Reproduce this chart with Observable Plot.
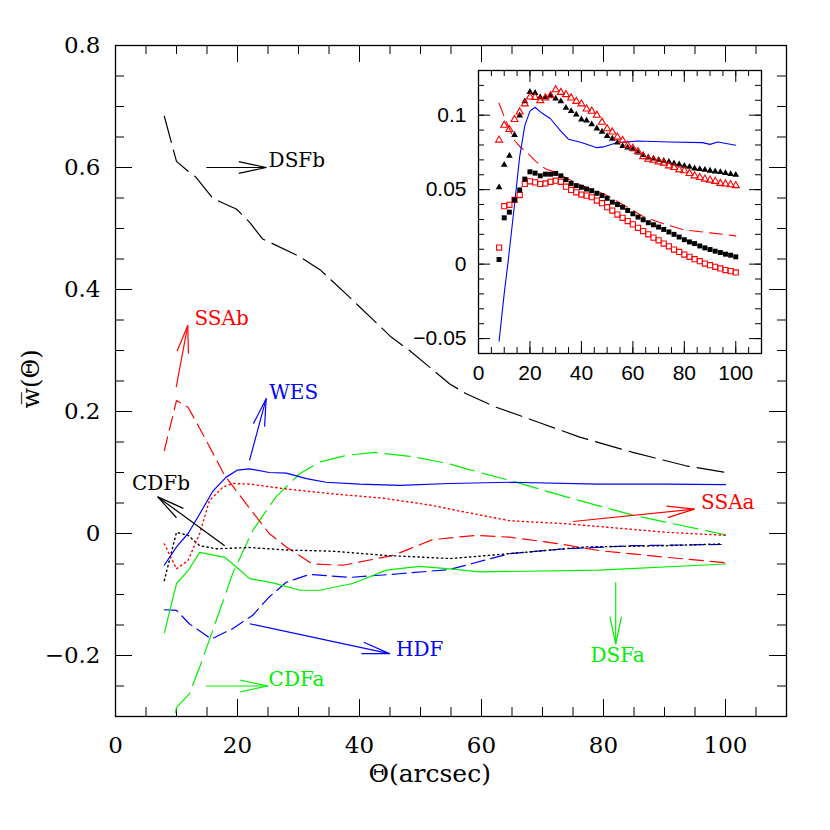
<!DOCTYPE html>
<html>
<head>
<meta charset="utf-8">
<script src="https://cdn.jsdelivr.net/npm/d3@7"></script>
<script src="https://cdn.jsdelivr.net/npm/@observablehq/plot@0.6"></script>
<style>
  html, body { margin: 0; padding: 0; background: #fff; }
  #chart { position: relative; width: 830px; height: 830px; }
</style>
</head>
<body>
<div id="chart"></div>
<script>
// ---------------- main panel data ----------------
const dsfbX = [8, 10, 12, 13.2, 16, 19.8, 22, 24.1, 30.2, 33.7, 38.4, 45.2, 48.2, 54.8, 57.5, 62.4, 70, 76.1, 84.8, 93.5, 100];
const dsfbY = [0.684, 0.61, 0.593, 0.584, 0.549, 0.532, 0.51, 0.483, 0.454, 0.431, 0.387, 0.322, 0.30, 0.245, 0.229, 0.207, 0.18, 0.158, 0.133, 0.111, 0.1];

const ssabX = [8, 10, 11.9, 14.9, 17.9, 21.4, 25.2, 28, 32.3, 37.3, 45.5, 52, 59.1, 64.6, 72.8, 79.3, 90.3, 100];
const ssabY = [0.136, 0.218, 0.207, 0.152, 0.095, 0.049, 0.0, -0.022, -0.05, -0.052, -0.036, -0.01, -0.003, -0.006, -0.017, -0.028, -0.039, -0.048];

const wesX = [8, 10, 11.9, 13.8, 16, 18.1, 20, 22, 25.2, 28, 31.3, 34.5, 40, 46.6, 54.8, 64.6, 79.3, 90.3, 100];
const wesY = [-0.052, -0.022, 0.0, 0.032, 0.07, 0.092, 0.104, 0.106, 0.1, 0.099, 0.09, 0.084, 0.081, 0.079, 0.082, 0.084, 0.081, 0.081, 0.080];

const cdfbX = [8, 10, 11.9, 13.8, 16.5, 22, 28, 35.6, 44.4, 54.8, 57.5, 65.7, 77.2, 90.3, 99.3];
const cdfbY = [-0.077, 0.002, -0.003, -0.02, -0.025, -0.023, -0.027, -0.029, -0.036, -0.041, -0.039, -0.032, -0.022, -0.02, -0.017];

const ssaaX = [8, 10, 11.9, 13.8, 15.4, 17.6, 19.2, 22, 28, 35.6, 43.8, 52, 54.8, 64.6, 73.9, 90.3, 100];
const ssaaY = [-0.017, -0.058, -0.044, 0.0, 0.054, 0.076, 0.082, 0.081, 0.073, 0.065, 0.058, 0.046, 0.04, 0.021, 0.016, 0.002, -0.003];

const hdfX = [8, 10, 12.1, 15.7, 19.2, 22.5, 25.2, 28, 31.8, 38.4, 46.6, 54.8, 64.6, 73.9, 84.8, 99.3];
const hdfY = [-0.125, -0.126, -0.148, -0.173, -0.156, -0.134, -0.104, -0.08, -0.067, -0.072, -0.066, -0.059, -0.033, -0.025, -0.02, -0.018];

const dsfaX = [8, 10, 11.9, 13.8, 17.9, 19.8, 22, 25.8, 30.2, 33.4, 38.9, 44.4, 49.8, 54.8, 59.7, 79.3, 100];
const dsfaY = [-0.163, -0.082, -0.061, -0.031, -0.039, -0.055, -0.074, -0.081, -0.093, -0.093, -0.082, -0.06, -0.054, -0.058, -0.063, -0.06, -0.05];

const cdfaX = [8, 10, 12.1, 13.8, 16.5, 19.2, 22.5, 26.3, 30.2, 33.4, 37.8, 42.5, 48.7, 54.8, 57.5, 64.6, 73.9, 84.8, 100];
const cdfaY = [-0.4, -0.285, -0.263, -0.219, -0.143, -0.066, 0.005, 0.06, 0.098, 0.117, 0.128, 0.133, 0.126, 0.114, 0.106, 0.087, 0.06, 0.03, -0.002];

// annotation arrows (data units) and their labels
const arrowNames  = ["DSFb", "SSAb", "WES", "CDFb", "HDF", "CDFa", "SSAa", "DSFa"];
const arrowColors = ["#000000", "#ff0000", "#0000ff", "#000000", "#0000ff", "#00ee00", "#ff0000", "#00ee00"];
const arrowX1 = [14.9, 9.95, 21.97, 17.9, 22.0, 14.85, 75.0, 82.0];
const arrowY1 = [0.60, 0.24, 0.12, -0.02, -0.148, -0.25, 0.0197, -0.08];
const arrowX2 = [24.7, 11.85, 24.7, 6.93, 44.9, 24.97, 94.9, 82.0];
const arrowY2 = [0.60, 0.341, 0.221, 0.06, -0.197, -0.25, 0.04, -0.181];
const labelX  = [25.1, 12.95, 25.2, 7.46, 46.0, 25.1, 96.0, 82.3];
const labelY  = [0.611, 0.352, 0.231, 0.081, -0.19, -0.239, 0.051, -0.20];
const labelAnchor = ["start", "start", "start", "middle", "start", "start", "start", "middle"];

const xTickLabels = [0, 20, 40, 60, 80, 100];
const yTickLabels = [-0.2, 0, 0.2, 0.4, 0.6, 0.8];

// ---------------- inset data ----------------
const insetX = [8, 10, 12, 14, 16, 18, 20, 22, 24, 26, 28, 30, 32, 34, 36, 38, 40, 42, 44, 46, 48, 50, 52, 54,
                56, 58, 60, 62, 64, 66, 68, 70, 72, 74, 76, 78, 80, 82, 84, 86, 88, 90, 92, 94, 96, 98, 100];
const blackTri = [0.0516, 0.0667, 0.0727, 0.0867, 0.0998, 0.1093, 0.1156, 0.1149, 0.112, 0.112, 0.1131, 0.1111,
                  0.1093, 0.1049, 0.1027, 0.1004, 0.0971, 0.0964, 0.0938, 0.0911, 0.0889, 0.086, 0.0842, 0.0816,
                  0.0793, 0.0782, 0.0771, 0.0749, 0.0733, 0.0716, 0.0709, 0.070, 0.0693, 0.0687, 0.0676, 0.0669,
                  0.066, 0.0653, 0.0642, 0.0638, 0.0633, 0.0627, 0.0622, 0.0618, 0.0611, 0.0604, 0.060];
const redTri = [0.0833, 0.0933, 0.0904, 0.0971, 0.1022, 0.1076, 0.1122, 0.112, 0.1098, 0.1116, 0.1131, 0.1171,
                0.1153, 0.1138, 0.1116, 0.1093, 0.1076, 0.1042, 0.1027, 0.100, 0.0953, 0.0909, 0.0887, 0.0853,
                0.0831, 0.0798, 0.0778, 0.0756, 0.0722, 0.0704, 0.0698, 0.0687, 0.0678, 0.066, 0.0649, 0.0633,
                0.0627, 0.0609, 0.0593, 0.0582, 0.0571, 0.0564, 0.0556, 0.0542, 0.0538, 0.0533, 0.0527];
const blackSq = [0.0031, 0.0311, 0.0349, 0.0431, 0.0498, 0.0571, 0.062, 0.0611, 0.0593, 0.0604, 0.0604, 0.0609,
                 0.0593, 0.0567, 0.0542, 0.0527, 0.0516, 0.0504, 0.0493, 0.0476, 0.046, 0.0442, 0.0416, 0.040,
                 0.0382, 0.036, 0.0338, 0.0316, 0.0298, 0.0278, 0.0264, 0.0249, 0.0233, 0.0216, 0.020, 0.0182,
                 0.0164, 0.0149, 0.0138, 0.0122, 0.0109, 0.0098, 0.0087, 0.0078, 0.0067, 0.006, 0.0049];
const redSq = [0.0111, 0.0389, 0.0398, 0.0431, 0.0464, 0.0538, 0.0556, 0.0549, 0.0538, 0.0542, 0.0553, 0.056,
               0.0553, 0.052, 0.0498, 0.0482, 0.0467, 0.046, 0.0449, 0.0427, 0.0409, 0.0382, 0.036, 0.0333,
               0.0311, 0.0289, 0.0267, 0.0244, 0.0222, 0.020, 0.0178, 0.016, 0.0138, 0.012, 0.0098, 0.0082,
               0.0064, 0.0049, 0.0033, 0.002, 0.0004, -0.0007, -0.0018, -0.0029, -0.004, -0.0047, -0.0056];
const insetBlueX = [8, 10, 11.4, 14, 16, 18, 20, 22, 24.5, 28, 32, 35, 40, 46, 48.5, 54, 62, 74, 87, 90, 93, 100];
const insetBlueY = [-0.0518, -0.0196, 0.0, 0.040, 0.072, 0.093, 0.1027, 0.1053, 0.1016, 0.0976, 0.0893, 0.0838,
                    0.0816, 0.0782, 0.0787, 0.0816, 0.0827, 0.082, 0.0816, 0.0804, 0.082, 0.0798];
const insetRedX = [8, 10, 12, 14, 16, 18, 20, 22, 26, 30, 35, 40, 46, 50, 56, 64, 72, 80, 90, 100];
const insetRedY = [0.108, 0.099, 0.091, 0.083, 0.079, 0.076, 0.073, 0.0693, 0.064, 0.0616, 0.057, 0.053, 0.049,
                   0.046, 0.040, 0.032, 0.027, 0.023, 0.021, 0.019];
const insetXTicks = [0, 20, 40, 60, 80, 100];
const insetYTicks = [-0.05, 0, 0.05, 0.1];

// ---------------- helpers ----------------
const zip = (xs, ys) => xs.map((x, i) => ({x, y: ys[i]}));
const RED = "#ff0000", BLUE = "#0000ff", GREEN = "#00ee00", BLACK = "#000000";
const SVGNS = "http://www.w3.org/2000/svg";

// open "V" arrowhead marker (long thin wings as in the reference)
function vMarker(color) {
  const m = document.createElementNS(SVGNS, "marker");
  m.setAttribute("viewBox", "-32 -10 36 20");
  m.setAttribute("markerWidth", "36");
  m.setAttribute("markerHeight", "20");
  m.setAttribute("markerUnits", "userSpaceOnUse");
  m.setAttribute("refX", "0");
  m.setAttribute("refY", "0");
  m.setAttribute("orient", "auto");
  m.setAttribute("overflow", "visible");
  const p = document.createElementNS(SVGNS, "path");
  p.setAttribute("d", "M-27.4,-5.8L0,0L-27.4,5.8");
  p.setAttribute("fill", "none");
  p.setAttribute("stroke", color);
  p.setAttribute("stroke-width", "1.2");
  p.setAttribute("stroke-linejoin", "round");
  m.appendChild(p);
  return m;
}

// ---------------- main plot ----------------
const W = 830, H = 830, mL = 115, mR = 44, mT = 45, mB = 114;
const pw = W - mL - mR, ph = H - mT - mB;
const xMinor = d3.range(0, 111, 5), xMajor = d3.range(0, 111, 20);
const yMinor = d3.range(-6, 17).map(d => d * 0.05), yMajor = d3.range(-1, 5).map(d => d * 0.2);
const fmtMain = d => d === 0 ? "0" : d.toFixed(1).replace("-", "\u2212");

const annotations = arrowNames.map((n, i) => ({
  name: n, color: arrowColors[i], x1: arrowX1[i], y1: arrowY1[i], x2: arrowX2[i], y2: arrowY2[i],
  lx: labelX[i], ly: labelY[i], anchor: labelAnchor[i]
}));
const annStart = annotations.filter(a => a.anchor === "start");
const annMid = annotations.filter(a => a.anchor === "middle");

const lw = 1.2;
function buildMain(useMarker) {
  const arrowMark = useMarker
    ? Plot.link(annotations, {x1: "x1", y1: "y1", x2: "x2", y2: "y2", stroke: d => d.color,
        strokeWidth: 1.2, markerEnd: vMarker})
    : Plot.arrow(annotations, {x1: "x1", y1: "y1", x2: "x2", y2: "y2", stroke: d => d.color,
        headAngle: 25, headLength: 29, strokeWidth: 1.2});
  return Plot.plot({
    width: W, height: H,
    marginLeft: mL, marginRight: mR, marginTop: mT, marginBottom: mB,
    x: {domain: [0, 110]},
    y: {domain: [-0.3, 0.8]},
    style: {fontFamily: "DejaVu Serif", fontSize: "23px", background: "white", color: "black"},
    marks: [
      Plot.frame({stroke: BLACK, strokeWidth: 1.3}),
      Plot.tickX(xMinor, {x: d => d, insetTop: ph - 9, stroke: BLACK}),
      Plot.tickX(xMajor, {x: d => d, insetTop: ph - 17, stroke: BLACK}),
      Plot.tickX(xMinor, {x: d => d, insetBottom: ph - 9, stroke: BLACK}),
      Plot.tickX(xMajor, {x: d => d, insetBottom: ph - 17, stroke: BLACK}),
      Plot.tickY(yMinor, {y: d => d, insetRight: pw - 9, stroke: BLACK}),
      Plot.tickY(yMajor, {y: d => d, insetRight: pw - 17, stroke: BLACK}),
      Plot.tickY(yMinor, {y: d => d, insetLeft: pw - 9, stroke: BLACK}),
      Plot.tickY(yMajor, {y: d => d, insetLeft: pw - 17, stroke: BLACK}),
      Plot.axisX(xTickLabels, {tickSize: 0, tickPadding: 20, label: null, fontSize: 23}),
      Plot.axisY(yTickLabels, {tickSize: 0, tickPadding: 15, label: null, fontSize: 23, tickFormat: fmtMain}),
      Plot.text(["\u0398(arcsec)"], {x: () => 51.5, frameAnchor: "bottom", dy: 65, fontSize: 25, text: d => d}),
      Plot.text(["w\u0305(\u0398)"], {y: () => 0.205, frameAnchor: "left", dx: -84, rotate: -90, fontSize: 24, text: d => d}),
      Plot.line(zip(dsfbX, dsfbY), {x: "x", y: "y", stroke: BLACK, strokeWidth: lw, strokeDasharray: "27,8"}),
      Plot.line(zip(cdfaX, cdfaY), {x: "x", y: "y", stroke: GREEN, strokeWidth: lw, strokeDasharray: "25,8", clip: true}),
      Plot.line(zip(ssabX, ssabY), {x: "x", y: "y", stroke: RED, strokeWidth: lw, strokeDasharray: "14,7"}),
      Plot.line(zip(hdfX, hdfY), {x: "x", y: "y", stroke: BLUE, strokeWidth: lw, strokeDasharray: "14,6"}),
      Plot.line(zip(cdfbX, cdfbY), {x: "x", y: "y", stroke: BLACK, strokeWidth: 1.4, strokeDasharray: "1.3,3.4"}),
      Plot.line(zip(ssaaX, ssaaY), {x: "x", y: "y", stroke: RED, strokeWidth: 1.4, strokeDasharray: "1.3,3.4"}),
      Plot.line(zip(wesX, wesY), {x: "x", y: "y", stroke: BLUE, strokeWidth: lw}),
      Plot.line(zip(dsfaX, dsfaY), {x: "x", y: "y", stroke: GREEN, strokeWidth: lw}),
      arrowMark,
      Plot.text(annStart, {x: "lx", y: "ly", text: "name", fill: d => d.color, textAnchor: "start", fontSize: 20}),
      Plot.text(annMid, {x: "lx", y: "ly", text: "name", fill: d => d.color, textAnchor: "middle", fontSize: 20})
    ]
  });
}
let mainPlot;
try { mainPlot = buildMain(true); } catch (e) { mainPlot = buildMain(false); }

// ---------------- inset plot ----------------
const iL = 70, iR = 20, iT = 10, iB = 45, iS = 283;
const ixMinor = d3.range(0, 111, 5), ixMajor = d3.range(0, 111, 20);
const iyMinor = d3.range(-6, 14).map(d => d / 100), iyMajor = d3.range(-1, 3).map(d => d * 0.05);
const fmtInset = d => d === 0 ? "0" : String(+d.toFixed(2)).replace("-", "\u2212");
const inset = Plot.plot({
  width: iL + iS + iR, height: iT + iS + iB,
  marginLeft: iL, marginRight: iR, marginTop: iT, marginBottom: iB,
  x: {domain: [0, 110]},
  y: {domain: [-0.06, 0.13]},
  style: {fontFamily: "Liberation Sans", fontSize: "21px", background: "transparent", color: "black",
          position: "absolute", left: (478 - iL) + "px", top: (70 - iT) + "px", overflow: "visible"},
  marks: [
    Plot.frame({stroke: BLACK, strokeWidth: 1.3, fill: "white"}),
    Plot.tickX(ixMinor, {x: d => d, insetTop: iS - 6, stroke: BLACK}),
    Plot.tickX(ixMajor, {x: d => d, insetTop: iS - 12, stroke: BLACK}),
    Plot.tickX(ixMinor, {x: d => d, insetBottom: iS - 6, stroke: BLACK}),
    Plot.tickX(ixMajor, {x: d => d, insetBottom: iS - 12, stroke: BLACK}),
    Plot.tickY(iyMinor, {y: d => d, insetRight: iS - 6, stroke: BLACK}),
    Plot.tickY(iyMajor, {y: d => d, insetRight: iS - 12, stroke: BLACK}),
    Plot.tickY(iyMinor, {y: d => d, insetLeft: iS - 6, stroke: BLACK}),
    Plot.tickY(iyMajor, {y: d => d, insetLeft: iS - 12, stroke: BLACK}),
    Plot.axisX(insetXTicks, {tickSize: 0, tickPadding: 12, label: null, fontSize: 21}),
    Plot.axisY(insetYTicks, {tickSize: 0, tickPadding: 12, label: null, fontSize: 21, tickFormat: fmtInset}),
    Plot.line(zip(insetRedX, insetRedY), {x: "x", y: "y", stroke: RED, strokeWidth: 1.1, strokeDasharray: "13,7"}),
    Plot.line(zip(insetBlueX, insetBlueY), {x: "x", y: "y", stroke: BLUE, strokeWidth: 1.1}),
    Plot.dot(zip(insetX, redSq), {x: "x", y: "y", symbol: "square", r: 2.9, stroke: RED, fill: "none", strokeWidth: 1.1}),
    Plot.dot(zip(insetX, blackSq), {x: "x", y: "y", symbol: "square", r: 2.8, fill: BLACK, stroke: "none"}),
    Plot.dot(zip(insetX, blackTri), {x: "x", y: "y", symbol: "triangle", r: 2.5, fill: BLACK, stroke: "none"}),
    Plot.dot(zip(insetX, redTri), {x: "x", y: "y", symbol: "triangle", r: 2.6, stroke: RED, fill: "none", strokeWidth: 1.1})
  ]
});

const chart = document.getElementById("chart");
chart.appendChild(mainPlot);
chart.appendChild(inset);
</script>
</body>
</html>
